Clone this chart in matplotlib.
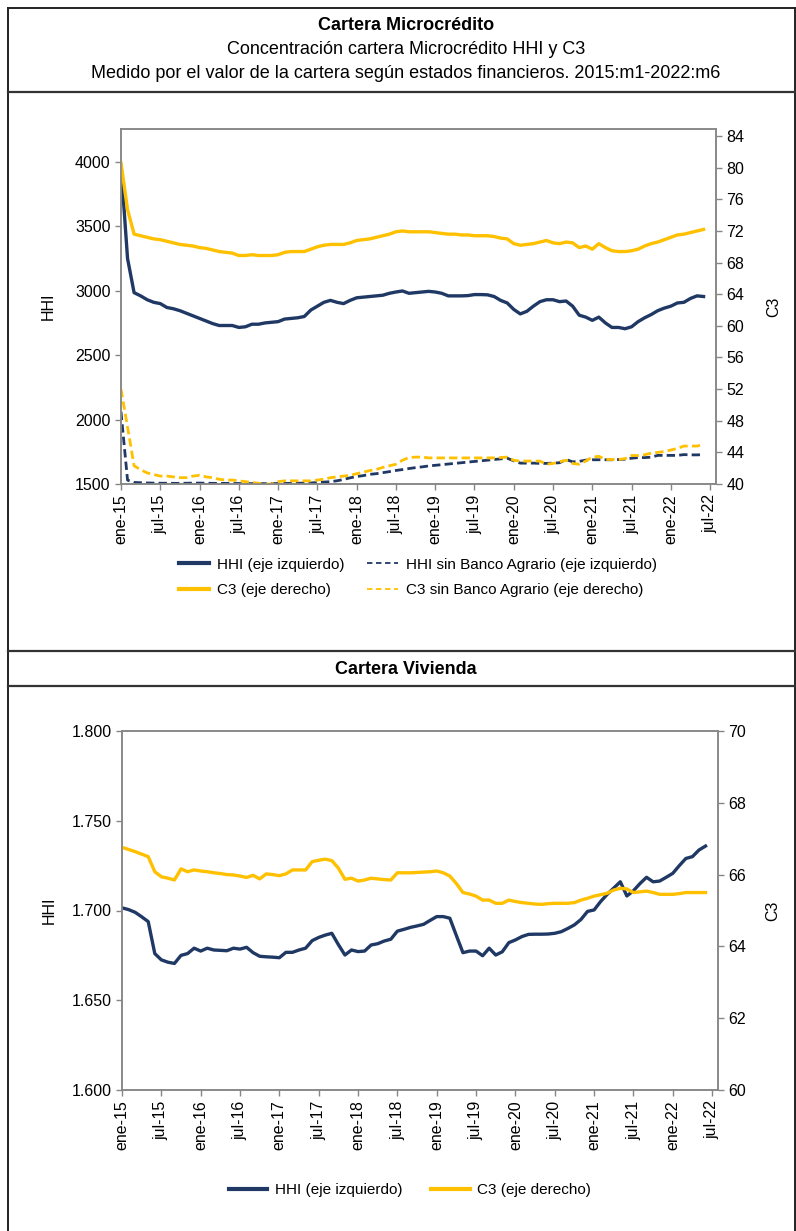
import numpy as np
import matplotlib.pyplot as plt
from matplotlib.lines import Line2D
from matplotlib.ticker import FuncFormatter, MultipleLocator

plt.rcParams['font.family'] = ['Liberation Sans', 'DejaVu Sans']

W, H = 796, 1231
AZUL = "#1f3864"
AMARILLO = "#ffc000"
GRIS = "#868686"

# etiquetas del eje x (cada 6 meses), datos mensuales 2015:m1-2022:m6
meses = ["ene-15", "jul-15", "ene-16", "jul-16", "ene-17", "jul-17", "ene-18", "jul-18",
         "ene-19", "jul-19", "ene-20", "jul-20", "ene-21", "jul-21", "ene-22", "jul-22"]

# Microcrédito
hhi_micro = [3970, 3250, 2985, 2960, 2930, 2910, 2900, 2870, 2860, 2845,
             2825, 2805, 2785, 2765, 2745, 2730, 2730, 2730, 2715, 2720,
             2740, 2740, 2750, 2755, 2760, 2780, 2785, 2790, 2800, 2850,
             2880, 2910, 2925, 2910, 2900, 2925, 2945, 2950, 2955, 2960,
             2965, 2980, 2990, 2998, 2980, 2985, 2990, 2995, 2990, 2980,
             2960, 2960, 2960, 2962, 2970, 2970, 2968, 2955, 2925, 2905,
             2855, 2820, 2840, 2880, 2915, 2930, 2930, 2915, 2920, 2880,
             2810, 2795, 2770, 2795, 2750, 2715, 2715, 2705, 2720, 2760,
             2790, 2815, 2845, 2865, 2880, 2905, 2910, 2940, 2960, 2955]
hhi_micro_sba = [2060, 1530, 1512, 1510, 1508, 1507, 1506, 1506, 1505, 1505,
                 1506, 1507, 1507, 1506, 1505, 1505, 1505, 1504, 1504, 1503,
                 1503, 1503, 1503, 1503, 1504, 1505, 1505, 1506, 1507, 1508,
                 1512, 1515, 1518, 1525, 1535, 1548, 1558, 1565, 1575, 1580,
                 1588, 1596, 1605, 1612, 1620, 1627, 1633, 1640, 1645, 1650,
                 1655, 1660, 1665, 1670, 1675, 1680, 1685, 1690, 1695, 1700,
                 1680, 1662, 1662, 1662, 1660, 1660, 1662, 1665, 1690, 1672,
                 1676, 1685, 1688, 1688, 1688, 1688, 1690, 1692, 1700, 1705,
                 1705, 1708, 1722, 1722, 1722, 1722, 1728, 1726, 1726, 1728]
c3_micro = [80.6, 74.7, 71.6, 71.4, 71.2, 71.0, 70.9, 70.7, 70.5, 70.3,
            70.2, 70.1, 69.9, 69.8, 69.6, 69.4, 69.3, 69.2, 68.9, 68.9,
            69.0, 68.9, 68.9, 68.9, 69.0, 69.3, 69.4, 69.4, 69.4, 69.7,
            70.0, 70.2, 70.3, 70.3, 70.3, 70.5, 70.8, 70.9, 71.0, 71.2,
            71.4, 71.6, 71.9, 72.0, 71.9, 71.9, 71.9, 71.9, 71.8, 71.7,
            71.6, 71.6, 71.5, 71.5, 71.4, 71.4, 71.4, 71.3, 71.1, 71.0,
            70.4, 70.2, 70.3, 70.4, 70.6, 70.8, 70.5, 70.4, 70.6, 70.5,
            69.9, 70.1, 69.7, 70.4, 69.9, 69.5, 69.4, 69.4, 69.5, 69.7,
            70.1, 70.4, 70.6, 70.9, 71.2, 71.5, 71.6, 71.8, 72.0, 72.2]
c3_micro_sba = [52.0, 47.2, 42.3, 41.8, 41.4, 41.2, 41.0, 41.0, 40.9, 40.8,
                40.8, 41.0, 41.1, 40.9, 40.8, 40.6, 40.5, 40.5, 40.4, 40.3,
                40.2, 40.1, 40.0, 40.0, 40.3, 40.4, 40.4, 40.4, 40.4, 40.4,
                40.5, 40.6, 40.8, 40.9, 41.0, 41.1, 41.3, 41.5, 41.7, 41.85,
                42.1, 42.3, 42.5, 43.0, 43.35, 43.4, 43.4, 43.3, 43.3, 43.3,
                43.3, 43.3, 43.3, 43.3, 43.3, 43.3, 43.3, 43.3, 43.35, 43.4,
                43.0, 42.9, 42.9, 42.9, 42.9, 42.5, 42.6, 42.8, 43.0, 42.6,
                42.5, 42.9, 43.4, 43.5, 43.1, 43.1, 43.1, 43.2, 43.6, 43.6,
                43.7, 43.9, 44.0, 44.1, 44.3, 44.5, 44.8, 44.8, 44.8, 45.0]

# Vivienda
hhi_viv = [1701.5, 1700.5, 1699.0, 1696.5, 1693.8, 1676.0, 1672.5, 1671.2, 1670.5, 1675.0,
           1676.0, 1679.0, 1677.4, 1679.0, 1678.0, 1677.8, 1677.6, 1679.0, 1678.5, 1679.5,
           1676.5, 1674.5, 1674.2, 1674.0, 1673.7, 1676.7, 1676.7, 1678.0, 1679.0, 1683.2,
           1685.0, 1686.3, 1687.3, 1681.0, 1675.2, 1678.0, 1677.1, 1677.4, 1680.8, 1681.5,
           1683.0, 1684.0, 1688.5, 1689.5, 1690.6, 1691.4, 1692.3, 1694.5, 1696.6, 1696.6,
           1695.7, 1686.0, 1676.5, 1677.4, 1677.4, 1674.8, 1679.0, 1675.2, 1677.0, 1682.1,
           1683.6, 1685.5, 1686.7, 1686.8, 1686.8, 1686.9, 1687.3, 1688.2, 1690.0, 1692.0,
           1695.0, 1699.5, 1700.3, 1705.0, 1709.0, 1712.5, 1716.0, 1708.1, 1711.0, 1715.0,
           1718.5, 1716.0, 1716.4, 1718.5, 1720.7, 1725.0, 1729.0, 1730.0, 1733.7, 1735.9]
c3_viv = [66.76, 66.70, 66.64, 66.57, 66.50, 66.08, 65.94, 65.90, 65.85, 66.16,
          66.08, 66.13, 66.10, 66.08, 66.05, 66.03, 66.00, 65.99, 65.96, 65.92,
          65.98, 65.88, 66.02, 66.00, 65.97, 66.02, 66.13, 66.13, 66.13, 66.36,
          66.40, 66.43, 66.39, 66.18, 65.87, 65.90, 65.82, 65.85, 65.90, 65.88,
          65.86, 65.85, 66.05, 66.05, 66.05, 66.06, 66.07, 66.08, 66.10, 66.05,
          65.96, 65.75, 65.50, 65.46, 65.40, 65.29, 65.29, 65.20, 65.20, 65.29,
          65.25, 65.22, 65.20, 65.18, 65.17, 65.19, 65.20, 65.20, 65.20, 65.22,
          65.29, 65.34, 65.40, 65.44, 65.48, 65.57, 65.62, 65.60, 65.50, 65.52,
          65.54, 65.50, 65.45, 65.45, 65.45, 65.47, 65.50, 65.50, 65.50, 65.50]


def caja(x0, y0, x1, y1):
    # rectangulo en pixeles (origen arriba a la izquierda)
    return [x0 / W, 1 - y1 / H, (x1 - x0) / W, (y1 - y0) / H]


def linea_h(fig, y, x0=8, x1=796, lw=1.6, color="#333333"):
    fig.add_artist(Line2D([x0 / W, x1 / W], [1 - y / H, 1 - y / H],
                          transform=fig.transFigure, color=color, lw=lw))


def estilo_ejes(ax, ax2):
    for a in (ax, ax2):
        for s in a.spines.values():
            s.set_color(GRIS)
            s.set_linewidth(1.1)
        a.tick_params(axis="both", colors=GRIS, labelcolor="black", labelsize=11.5,
                      length=4, width=1, direction="out")
    ax.set_xticks(np.arange(0, 91, 6))
    ax.set_xticklabels(meses, rotation=90, fontsize=11.5)
    ax.set_xlim(0, 90.9)


def main():
    fig = plt.figure(figsize=(W / 100, H / 100), dpi=100)
    x = np.arange(len(hhi_micro))

    # marco
    fig.add_artist(Line2D([8 / W, 8 / W], [0, 1 - 8 / H], transform=fig.transFigure,
                          color="#222222", lw=1.4))
    fig.add_artist(Line2D([795 / W, 795 / W], [0, 1 - 8 / H], transform=fig.transFigure,
                          color="#222222", lw=1.4))
    linea_h(fig, 8, lw=1.4, color="#222222")
    linea_h(fig, 92)
    linea_h(fig, 651)
    linea_h(fig, 686)

    fig.text(406 / W, 1 - 25 / H, "Cartera Microcrédito", ha="center", va="center",
             fontsize=13, fontweight="bold")
    fig.text(406 / W, 1 - 49 / H, "Concentración cartera Microcrédito HHI y C3",
             ha="center", va="center", fontsize=13)
    fig.text(406 / W, 1 - 73 / H,
             "Medido por el valor de la cartera según estados financieros. 2015:m1-2022:m6",
             ha="center", va="center", fontsize=13)
    fig.text(406 / W, 1 - 669 / H, "Cartera Vivienda", ha="center", va="center",
             fontsize=13, fontweight="bold")

    # --- Microcrédito ---
    ax = fig.add_axes(caja(121, 129, 716, 484))
    ax2 = ax.twinx()
    ax.plot(x, hhi_micro, color=AZUL, lw=2.4, solid_joinstyle="round")
    ax.plot(x, hhi_micro_sba, color=AZUL, lw=2.0, ls=(0, (3, 1.5)))
    ax2.plot(x, c3_micro, color=AMARILLO, lw=2.4, solid_joinstyle="round")
    ax2.plot(x, c3_micro_sba, color=AMARILLO, lw=2.0, ls=(0, (3, 1.5)))
    ax.set_ylim(1500, 4255)
    ax.yaxis.set_major_locator(MultipleLocator(500))
    ax2.set_ylim(40, 84.9)
    ax2.set_yticks(np.arange(40, 85, 4))
    estilo_ejes(ax, ax2)
    ax.set_ylabel("HHI", fontsize=11.5)
    ax2.set_ylabel("C3", fontsize=11.5, rotation=90)
    ax.yaxis.set_label_coords(-0.11, 0.5)
    ax2.yaxis.set_label_coords(1.085, 0.5)

    # orden por columnas: HHI / C3 a la izquierda, sin Banco Agrario a la derecha
    h = [Line2D([], [], color=AZUL, lw=3),
         Line2D([], [], color=AMARILLO, lw=3),
         Line2D([], [], color=AZUL, lw=1.3, ls=(0, (3, 2))),
         Line2D([], [], color=AMARILLO, lw=1.3, ls=(0, (3, 2)))]
    etiquetas = ["HHI (eje izquierdo)", "C3 (eje derecho)",
                 "HHI sin Banco Agrario (eje izquierdo)", "C3 sin Banco Agrario (eje derecho)"]
    fig.legend(h, etiquetas, loc="upper left", bbox_to_anchor=(165 / W, 1 - 544 / H),
               ncol=2, frameon=False, fontsize=11, handlelength=2.0,
               handletextpad=0.5, columnspacing=1.5, labelspacing=0.75)

    # --- Vivienda ---
    bx = fig.add_axes(caja(122, 731, 718, 1090))
    bx2 = bx.twinx()
    bx.plot(x, hhi_viv, color=AZUL, lw=2.4, solid_joinstyle="round")
    bx2.plot(x, c3_viv, color=AMARILLO, lw=2.4, solid_joinstyle="round")
    bx.set_ylim(1600, 1800)
    bx.yaxis.set_major_locator(MultipleLocator(50))
    bx.yaxis.set_major_formatter(FuncFormatter(lambda v, p: f"{int(round(v)):,}".replace(",", ".")))
    bx2.set_ylim(60, 70)
    bx2.set_yticks(np.arange(60, 71, 2))
    estilo_ejes(bx, bx2)
    bx.set_ylabel("HHI", fontsize=11.5)
    bx2.set_ylabel("C3", fontsize=11.5, rotation=90)
    bx.yaxis.set_label_coords(-0.11, 0.5)
    bx2.yaxis.set_label_coords(1.08, 0.5)

    h2 = [Line2D([], [], color=AZUL, lw=3), Line2D([], [], color=AMARILLO, lw=3)]
    fig.legend(h2, ["HHI (eje izquierdo)", "C3 (eje derecho)"], loc="center",
               bbox_to_anchor=(410 / W, 1 - 1190 / H), ncol=2, frameon=False,
               fontsize=11, handlelength=2.5, handletextpad=0.5, columnspacing=1.9)

    fig.savefig("out.png", dpi=100)


if __name__ == '__main__':
    main()
